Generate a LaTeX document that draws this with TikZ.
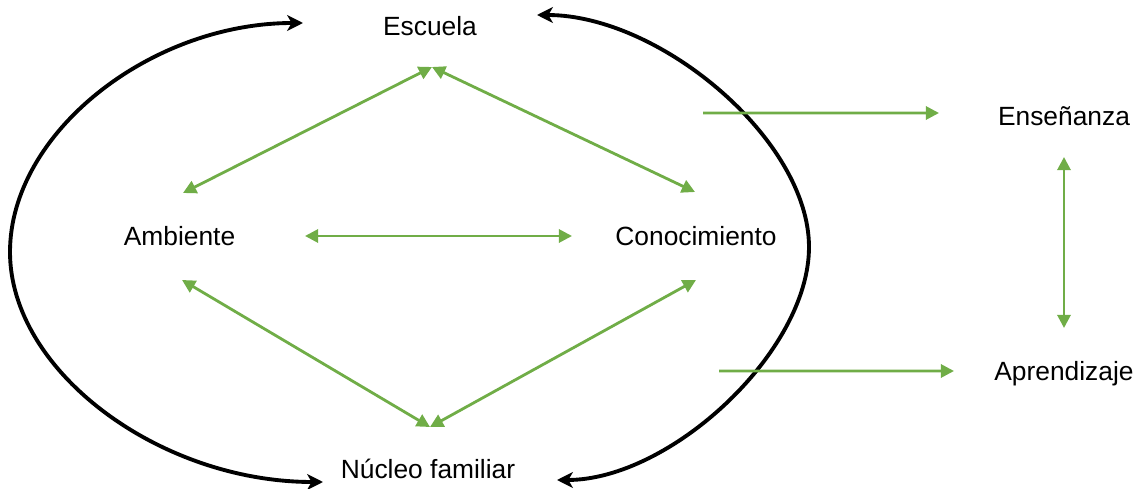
\documentclass[tikz,border=0pt]{standalone}
\usepackage{fontspec}
\setmainfont{Liberation Sans}
\usetikzlibrary{arrows.meta}
\definecolor{grn}{RGB}{112,173,71}

\begin{document}
\begin{tikzpicture}[
		lbl/.style={font=\fontsize{15pt}{18pt}\selectfont, text height=11pt, text depth=3pt},
		gboth/.style={grn, line width=1.6pt, arrows={Triangle[length=7.5pt,width=7.5pt]-Triangle[length=7.5pt,width=7.5pt]}},
		gone/.style={grn, line width=1.6pt, arrows={-Triangle[length=7.5pt,width=7.5pt]}},
		kboth/.style={black, line width=2.2pt, arrows={Stealth[length=9pt,width=9pt,inset=2.5pt]-Stealth[length=9pt,width=9pt,inset=2.5pt]}}]
		\useasboundingbox (0,0) rectangle (22.82,9.78);
		
		\node[lbl] (esc) at (8.60,9.22) {Escuela};
		\node[lbl] (amb) at (3.59,5.02) {Ambiente};
		\node[lbl] (con) at (13.92,5.02) {Conocimiento};
		\node[lbl] (nuc) at (8.56,0.36) {Núcleo familiar};
		\node[lbl] (ens) at (21.28,7.42) {Enseñanza};
		\node[lbl] (apr) at (21.28,2.32) {Aprendizaje};
		
		% ends of the two big loops
		\coordinate (lTop) at (6.06,9.32);
		\coordinate (lBot) at (6.46,0.14);
		\coordinate (rTop) at (10.74,9.48);
		\coordinate (rBot) at (11.14,0.18);
		\coordinate (ensS) at (14.06,7.52);
		\coordinate (aprS) at (14.38,2.36);
		
		\draw[kboth] (lTop) .. controls (3.01,9.32) and (0.2,7.12) .. (0.2,4.74)
			.. controls (0.2,2.35) and (3.20,0.14) .. (lBot);
		\draw[kboth] (rTop) .. controls (13.2,9.48) and (16.18,6.98) .. (16.18,4.84)
			.. controls (16.18,2.74) and (13.4,0.18) .. (rBot);
		
		\draw[gboth] ([shift={(0.04,-0.78)}]esc.center) -- ([shift={(0.07,0.90)}]amb.center);
		\draw[gboth] ([shift={(0.04,-0.78)}]esc.center) -- ([shift={(-0.02,0.92)}]con.center);
		\draw[gboth] ([shift={(2.51,0.04)}]amb.center) -- ([shift={(-2.48,0.04)}]con.center);
		\draw[gboth] ([shift={(0.05,-0.84)}]amb.center) -- ([shift={(0.04,0.88)}]nuc.center);
		\draw[gboth] ([shift={(0,-0.84)}]con.center) -- ([shift={(0.04,0.88)}]nuc.center);
		
		\draw[gone] (ensS) -- ([shift={(-2.50,0.10)}]ens.center);
		\draw[gone] (aprS) -- ([shift={(-2.20,0.04)}]apr.center);
		\draw[gboth] ([yshift=-0.78cm]ens.center) -- ([yshift=0.90cm]apr.center);
	\end{tikzpicture}
\end{document}
